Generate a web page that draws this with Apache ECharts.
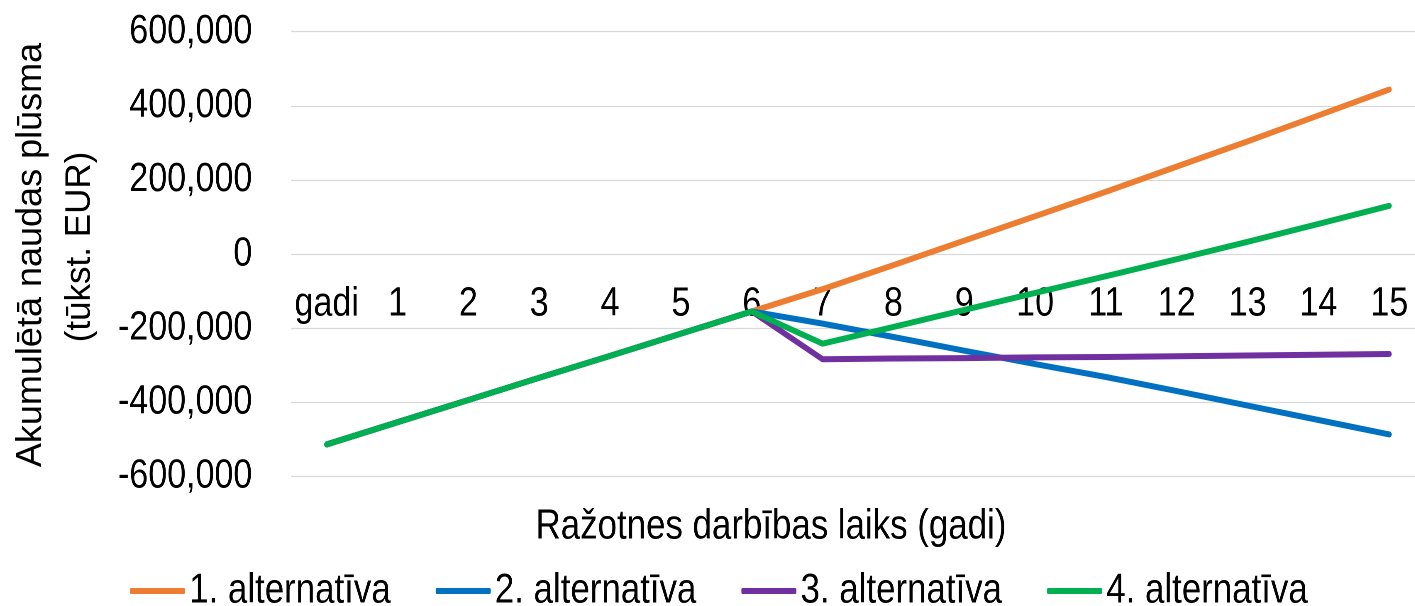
<!DOCTYPE html>
<html>
<head>
<meta charset="utf-8">
<script src="https://cdn.jsdelivr.net/npm/echarts@6/dist/echarts.min.js"></script>
<style>
  html, body { margin: 0; padding: 0; background: #ffffff; overflow: hidden; }
  #wrap { width: 1415px; height: 606px; overflow: hidden; position: relative; }
  /* The chart is laid out wider and squeezed horizontally to get the narrow lettering */
  #chart { height: 606px; transform-origin: 0 0; }
</style>
</head>
<body>
<div id="wrap"><div id="chart"></div></div>
<script>
// Gadi (0. gads apzīmēts ar "gadi")
const gadi = ['gadi', '1', '2', '3', '4', '5', '6', '7', '8', '9', '10', '11', '12', '13', '14', '15'];

// Kopīgā daļa visām alternatīvām (0.–6. gads)
const kopigaisSakums = [-514000, -454000, -394000, -334000, -275000, -215000, -155000];

// Katras alternatīvas turpinājums (7.–15. gads)
const alt1Turpinajums = [-95000, -30000, 36000, 102000, 168000, 236000, 304000, 374000, 444000];
const alt2Turpinajums = [-188000, -224000, -261000, -297000, -332000, -370000, -409000, -448000, -487000];
const alt3Turpinajums = [-284000, -282000, -281000, -279000, -278000, -276000, -274000, -272000, -270000];
const alt4Turpinajums = [-242000, -197000, -151000, -105000, -60000, -14000, 33000, 81000, 130000];

const nosaukumi = ['1. alternatīva', '2. alternatīva', '3. alternatīva', '4. alternatīva'];
const krasas = ['#ED7D31', '#0070C0', '#7030A0', '#00B050'];

const yMin = -600000;
const yMax = 600000;
const yStep = 200000;

// horizontal squeeze factor of the whole drawing
const SX = 0.83;
const px = v => v / SX;

const font = "'Liberation Sans', Arial, sans-serif";

const rindas = [alt1Turpinajums, alt2Turpinajums, alt3Turpinajums, alt4Turpinajums]
  .map(t => kopigaisSakums.concat(t));

const el = document.getElementById('chart');
el.style.width = px(1415) + 'px';
el.style.transform = 'scaleX(' + SX + ')';

const chart = echarts.init(el, null, { renderer: 'canvas', devicePixelRatio: 2 });

const gridTop = 31.7;
const gridHeight = 444.6;

chart.setOption({
  animation: false,
  backgroundColor: '#ffffff',
  grid: {
    left: px(291.3),
    top: gridTop,
    width: px(1133.4),
    height: gridHeight,
    containLabel: false,
    outerBoundsMode: 'none'
  },
  xAxis: {
    type: 'category',
    data: gadi,
    boundaryGap: true,
    position: 'bottom',
    // category labels sit just under the zero line
    offset: -222,
    axisLine: { show: false, onZero: false },
    axisTick: { show: false },
    splitLine: { show: false },
    axisLabel: {
      interval: 0,
      margin: 50,
      verticalAlign: 'middle',
      color: '#000000',
      fontSize: 41,
      fontFamily: font
    }
  },
  yAxis: {
    type: 'value',
    min: yMin,
    max: yMax,
    interval: yStep,
    axisLine: { show: false },
    axisTick: { show: false },
    splitLine: { show: true, lineStyle: { color: '#d9d9d9', width: 1.3 } },
    axisLabel: {
      margin: px(39),
      color: '#000000',
      fontSize: 41,
      fontFamily: font
    }
  },
  legend: {
    data: nosaukumi,
    left: px(130),
    top: 570,
    padding: 0,
    icon: 'roundRect',
    itemGap: px(45),
    itemWidth: px(55),
    itemHeight: 6,
    textStyle: { color: '#000000', fontSize: 42, fontFamily: font }
  },
  graphic: [
    {
      type: 'text',
      x: px(31),
      y: 255,
      rotation: Math.PI / 2,
      scaleY: 1 / SX,
      style: {
        text: 'Akumulētā naudas plūsma',
        fill: '#000000',
        font: '36px ' + font,
        textAlign: 'center',
        textVerticalAlign: 'middle'
      }
    },
    {
      type: 'text',
      x: px(80),
      y: 247,
      rotation: Math.PI / 2,
      scaleY: 1 / SX,
      style: {
        text: '(tūkst. EUR)',
        fill: '#000000',
        font: '35px ' + font,
        textAlign: 'center',
        textVerticalAlign: 'middle'
      }
    },
    {
      type: 'text',
      x: px(771),
      y: 527,
      style: {
        text: 'Ražotnes darbības laiks (gadi)',
        fill: '#000000',
        font: '42px ' + font,
        textAlign: 'center',
        textVerticalAlign: 'middle'
      }
    }
  ],
  series: rindas.map((vertibas, i) => ({
    name: nosaukumi[i],
    type: 'line',
    data: vertibas,
    symbol: 'none',
    smooth: false,
    color: krasas[i],
    lineStyle: { color: krasas[i], width: 6, cap: 'round', join: 'round' }
  }))
});
</script>
</body>
</html>
